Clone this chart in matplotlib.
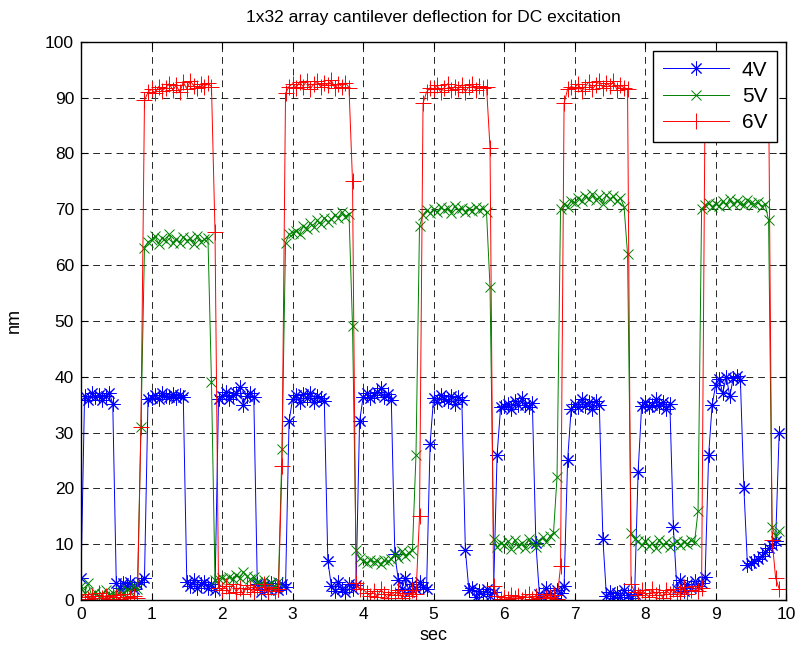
import numpy as np
import matplotlib
matplotlib.use("Agg")
import matplotlib.pyplot as plt

plt.rcParams['font.family'] = ['Liberation Sans', 'DejaVu Sans']

# sample times (s), 0.05 s spacing
t = np.round(np.arange(0, 199) * 0.05, 2)

v4 = [
    4.0, 36.5, 35.8, 37.0, 36.3, 36.8, 35.9, 36.6, 37.1, 35.2, 3.0, 2.2, 3.1, 2.5, 3.2, 2.0, 2.8, 3.3, 4.0, 36.0,
    36.2, 36.8, 36.0, 37.0, 36.5, 36.3, 36.9, 36.1, 36.7, 36.4, 3.2, 2.5, 3.5, 2.1, 2.8, 3.3, 2.2, 2.9, 1.8, 36.0,
    36.5, 37.2, 36.0, 36.8, 37.0, 38.2, 35.0, 36.6, 37.1, 36.3, 2.8, 1.5, 2.6, 1.9, 3.1, 2.2, 1.7, 2.9, 2.4, 32.0,
    36.0, 36.8, 35.5, 36.9, 36.2, 37.0, 35.4, 36.5, 36.1, 35.6, 7.0, 2.5, 1.6, 3.2, 2.0, 1.4, 2.8, 1.9, 2.6, 32.0,
    36.3, 37.0, 36.1, 36.8, 37.2, 38.0, 36.4, 36.9, 35.8, 8.2, 3.5, 2.0, 4.0, 1.5, 2.8, 1.9, 3.2, 2.4, 2.0, 28.0,
    36.2, 35.4, 36.8, 36.0, 35.7, 36.5, 35.2, 36.3, 35.9, 9.0, 1.8, 2.2, 0.5, 1.6, 1.1, 2.0, 0.8, 1.4, 26.0, 34.5,
    34.8, 35.2, 34.3, 35.6, 34.9, 36.2, 35.0, 34.6, 35.3, 10.2, 1.0, 0.6, 2.1, 1.3, 0.4, 1.8, 1.2, 2.5, 25.0, 34.2,
    35.1, 34.5, 36.0, 34.8, 35.4, 34.2, 35.6, 34.9, 11.0, 0.8, 1.5, 0.3, 1.2, 0.6, 1.8, 0.9, 0.4, 1.0, 23.0, 34.8,
    35.4, 34.6, 35.0, 36.0, 34.8, 35.5, 34.3, 35.2, 13.0, 2.0, 3.5, 1.6, 2.8, 2.2, 3.4, 2.5, 3.0, 4.2, 26.0, 35.0,
    38.5, 39.6, 37.0, 40.0, 36.5, 39.8, 40.2, 39.5, 20.0, 6.3, 6.6, 6.9, 7.4, 7.9, 8.6, 9.3, 9.8, 10.5, 30.0,
]

v5 = [
    2.5, 1.2, 3.0, 0.8, 1.5, 0.6, 1.0, 1.8, 0.9, 1.3, 0.7, 1.6, 1.1, 2.0, 1.4, 2.6, 1.9, 31.0, 63.0, 64.2,
    64.5, 65.2, 63.8, 64.9, 64.3, 65.5, 64.0, 64.7, 63.9, 65.1, 64.4, 64.8, 63.7, 65.3, 64.2, 64.6, 64.9, 39.0, 3.5, 3.8,
    4.0, 3.6, 4.2, 3.8, 4.5, 3.9, 5.0, 4.3, 3.7, 4.1, 3.2, 2.8, 3.5, 2.6, 3.0, 2.4, 3.3, 27.0, 64.0, 65.5,
    65.8, 66.2, 65.5, 67.0, 66.4, 67.5, 66.8, 68.0, 67.3, 68.5, 67.8, 68.2, 69.0, 68.4, 69.5, 68.7, 69.2, 49.0, 9.0, 7.5,
    7.0, 6.6, 7.2, 6.8, 7.0, 6.5, 7.1, 6.9, 7.3, 8.2, 7.5, 8.8, 7.9, 8.5, 9.0, 26.0, 67.0, 69.0, 69.8, 69.3,
    70.0, 69.5, 70.4, 69.8, 70.2, 69.4, 70.6, 69.9, 70.3, 69.6, 70.1, 69.7, 70.5, 69.8, 70.2, 69.5, 56.0, 11.0, 9.5, 10.2,
    9.8, 10.5, 9.2, 10.8, 9.6, 10.2, 9.4, 10.9, 10.0, 9.5, 10.6, 11.2, 10.4, 11.5, 12.0, 22.0, 70.0, 71.0, 70.5, 71.5,
    71.2, 72.0, 71.5, 72.4, 71.8, 72.8, 71.6, 72.2, 71.0, 72.6, 71.9, 72.3, 71.4, 72.0, 70.5, 62.0, 12.0, 11.0, 10.5, 9.8,
    10.5, 9.6, 10.2, 9.3, 10.8, 9.9, 10.3, 9.5, 10.0, 10.6, 9.8, 10.4, 10.1, 10.7, 10.3, 16.0, 70.0, 70.8, 71.2, 70.5,
    71.0, 70.6, 71.4, 70.8, 71.8, 70.9, 71.5, 71.1, 70.7, 71.6, 71.2, 70.9, 71.3, 70.5, 71.0, 68.0, 13.0, 11.5, 12.3,
]

v6 = [
    0.5, 1.0, 0.2, 0.8, 0.4, 1.2, 0.3, 0.7, 0.1, 0.9, 0.5, 0.2, 1.1, 0.6, 0.3, 0.8, 0.4, 31.0, 89.5, 91.0,
    91.5, 90.8, 92.0, 91.2, 91.8, 92.5, 91.4, 92.2, 91.0, 92.8, 91.6, 93.0, 92.1, 91.7, 92.4, 91.9, 92.6, 92.0, 66.0, 2.2,
    1.8, 2.5, 1.2, 2.8, 1.5, 2.2, 1.0, 2.6, 1.9, 1.4, 2.3, 1.7, 2.9, 1.1, 2.4, 1.6, 2.0, 24.0, 90.8, 92.0,
    92.5, 91.8, 92.8, 92.0, 93.0, 91.6, 92.4, 92.9, 91.9, 92.6, 92.2, 93.1, 91.7, 92.5, 92.0, 92.7, 91.8, 75.0, 3.0, 2.0,
    2.0, 1.2, 0.8, 1.6, 0.5, 1.9, 1.1, 0.3, 1.4, 0.9, 1.7, 0.4, 1.3, 0.7, 1.8, 1.0, 15.0, 89.0, 91.0, 91.8,
    91.5, 92.2, 91.0, 91.8, 92.5, 91.3, 92.0, 91.6, 92.3, 91.1, 91.9, 92.4, 91.4, 92.1, 91.7, 92.0, 81.0, 2.5, 0.8, 0.2,
    0.5, 0.1, 0.9, 0.3, 0.7, 0.0, 0.6, 1.0, 0.2, 0.8, 0.4, 1.1, 0.3, 0.6, 0.9, 0.2, 6.0, 89.0, 91.5, 92.0,
    91.8, 92.5, 91.2, 92.0, 92.8, 91.5, 92.3, 93.0, 91.7, 92.6, 92.1, 92.9, 91.4, 92.2, 91.8, 91.5, 2.8, 1.5, 0.9, 1.8,
    1.2, 0.6, 1.9, 0.9, 1.5, 0.4, 1.7, 1.1, 2.0, 0.8, 1.4, 2.3, 1.0, 1.8, 2.5, 1.6, 2.2, 91.0, 91.8, 92.3,
    91.6, 92.0, 91.3, 91.8, 92.2, 91.5, 91.9, 91.2, 92.1, 91.7, 91.4, 92.0, 91.6, 91.9, 91.3, 91.5, 10.7, 3.9, 2.0,
]

labels = ['4V', '5V', '6V']
xticks = list(range(0, 11))
yticks = list(range(0, 101, 10))

fig = plt.figure(figsize=(7.99, 6.54), dpi=100)
ax = fig.add_axes([0.1014, 0.0826, 0.8826, 0.8534])

asterisk = (8, 2, 0)
ax.plot(t, v4, color=(0, 0, 1), lw=0.7, marker=asterisk, ms=10, mew=0.7, label=labels[0], zorder=3)
ax.plot(t, v5, color=(0, 0.5, 0), lw=0.7, marker='x', ms=7, mew=0.7, label=labels[1], zorder=3)
ax.plot(t, v6, color=(1, 0, 0), lw=0.7, marker='+', ms=11, mew=0.7, label=labels[2], zorder=3)

ax.set_xlim(0, 10)
ax.set_ylim(0, 100)
ax.set_xticks(xticks)
ax.set_yticks(yticks)
ax.tick_params(direction='in', top=True, right=True, labelsize=12.5, length=5, width=0.8, pad=5)
ax.grid(True, color='black', linestyle=(0, (7, 5)), linewidth=0.7, alpha=0.85)
ax.set_axisbelow(True)
for s in ax.spines.values():
    s.set_linewidth(1.0)
    s.set_zorder(5)

ax.set_xlabel('sec', fontsize=13, labelpad=4)
ax.set_ylabel('nm', fontsize=13, labelpad=16)
ax.set_title('1x32 array cantilever deflection for DC excitation', fontsize=12.5, pad=14)

leg = ax.legend(loc='upper right', fontsize=15, fancybox=False, framealpha=1,
                edgecolor='black', handlelength=3.2, borderpad=0.45, labelspacing=0.35,
                handletextpad=0.6, borderaxespad=0.45)
leg.get_frame().set_linewidth(1.0)

fig.savefig('out.png', dpi=100)
